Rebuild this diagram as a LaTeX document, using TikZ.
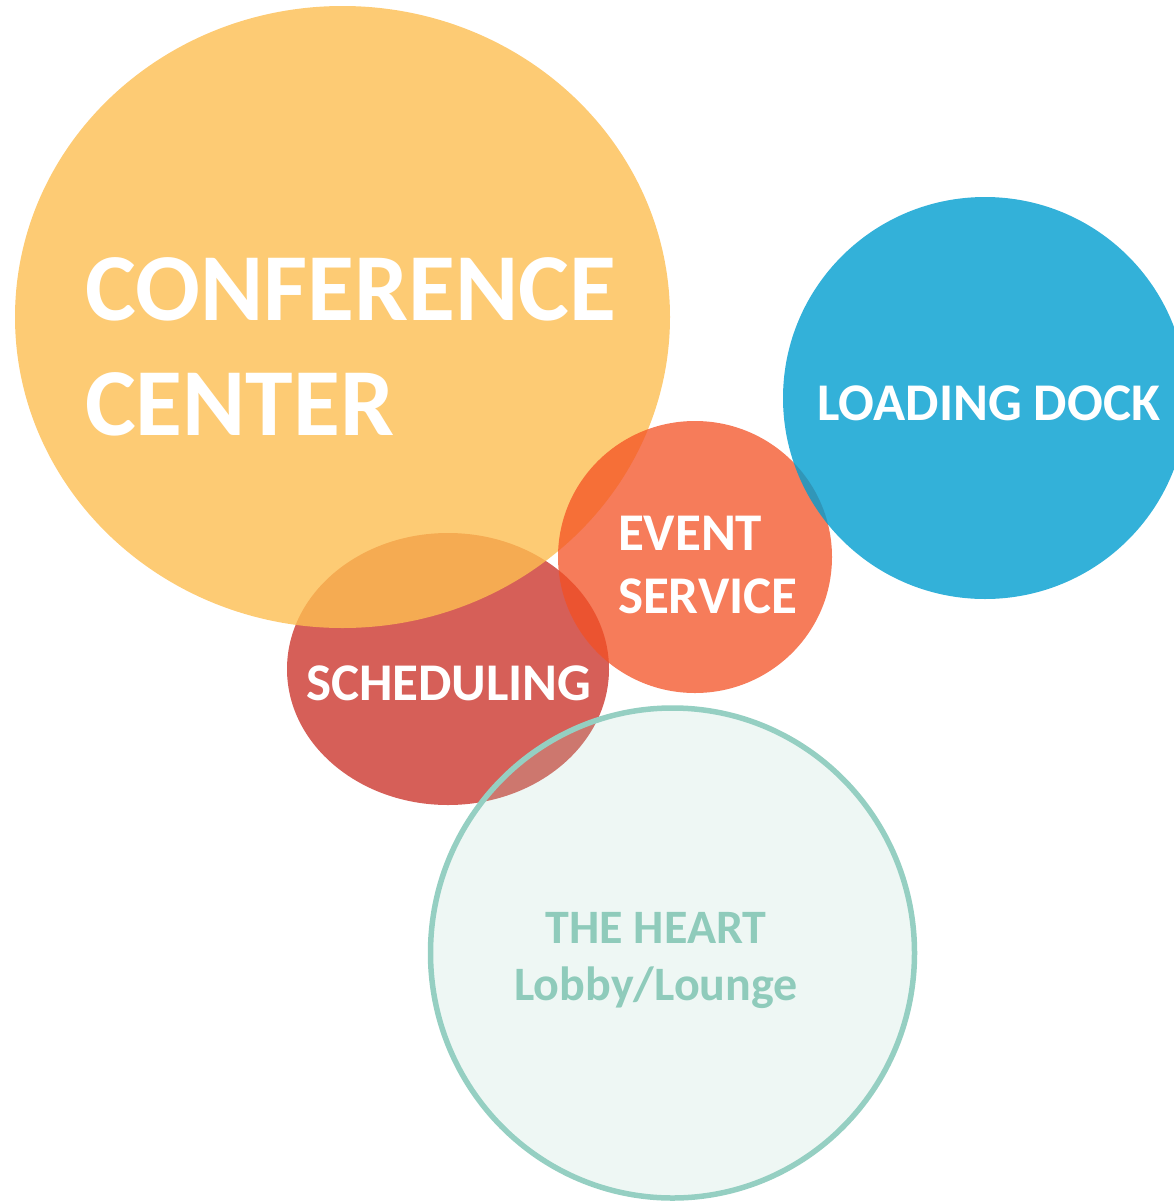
\documentclass[tikz,border=0pt]{standalone}
\usepackage{fontspec}
\setmainfont{Carlito}
\definecolor{confC}{RGB}{253,190,81}
\definecolor{schedC}{RGB}{214,95,88}
\definecolor{eventC}{RGB}{243,80,35}
\definecolor{dockC}{RGB}{0,157,208}
\definecolor{heartC}{RGB}{170,215,200}
\definecolor{heartL}{RGB}{149,207,194}
\definecolor{heartT}{RGB}{143,203,187}
\tikzset{
  lbl/.style={inner sep=0pt, outer sep=0pt, text=white, font=\bfseries},
  big/.style={lbl, font=\fontsize{96}{115}\selectfont\bfseries},
  mid/.style={lbl, font=\fontsize{53}{63}\selectfont\bfseries},
  heartlbl/.style={inner sep=0pt, outer sep=0pt, text=heartT, font=\fontsize{48}{57}\selectfont\bfseries},
}
\begin{document}
\begin{tikzpicture}[x=1pt,y=-1pt]
\useasboundingbox (0,0) rectangle (1174,1202);
\begin{scope}
\clip (0,0) rectangle (1174,1202);
% Scheduling
\fill[schedC] (448,669) ellipse [x radius=161, y radius=136];
% Conference center
\fill[confC, fill opacity=0.8] (342.5,317) ellipse [x radius=327.5, y radius=311];
% Event service
\fill[eventC, fill opacity=0.75] (695,557) ellipse [x radius=137, y radius=136];
% Loading dock
\fill[dockC, fill opacity=0.8] (985,398) ellipse [x radius=202, y radius=201];
% The heart
\filldraw[fill=heartC, fill opacity=0.2, draw=heartL, line width=5.5pt] (672.5,953) ellipse [x radius=242, y radius=245];
\end{scope}
% Labels
\node[big, anchor=base west] (cc1) at (85,320) {CONFERENCE};
\node[big, anchor=base west] (cc2) at (85,435) {CENTER};
\node[mid, anchor=base west] (ld) at (817,420) {LOADING DOCK};
\node[mid, anchor=base west] (es1) at (618,550) {EVENT};
\node[mid, anchor=base west] (es2) at (618,613) {SERVICE};
\node[mid, anchor=base west] (sc) at (306,700) {SCHEDULING};
\node[heartlbl, anchor=base] (h1) at (656,943) {THE HEART};
\node[heartlbl, anchor=base] (h2) at (656,1000) {Lobby/Lounge};
\end{tikzpicture}
\end{document}
